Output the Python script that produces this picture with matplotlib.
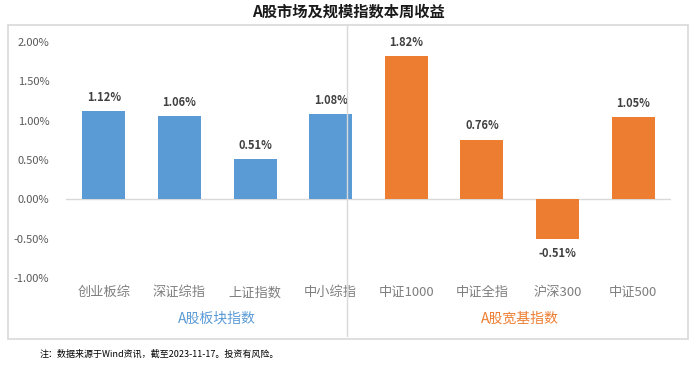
import numpy as np
import matplotlib.pyplot as plt
from matplotlib.patches import Rectangle
from matplotlib.lines import Line2D

plt.rcParams['font.family'] = ['Noto Sans CJK SC', 'DejaVu Sans']

# data
categories = ['创业板综', '深证综指', '上证指数', '中小综指', '中证1000', '中证全指', '沪深300', '中证500']
values = [1.12, 1.06, 0.51, 1.08, 1.82, 0.76, -0.51, 1.05]
groups = ['A股板块指数', 'A股宽基指数']
group_sizes = [4, 4]

blue = '#5b9bd5'
orange = '#ed7d31'
colors = [blue] * group_sizes[0] + [orange] * group_sizes[1]

fig = plt.figure(figsize=(6.96, 3.69), dpi=100)
ax = fig.add_axes([66 / 696, 1 - 278 / 369, 605 / 696, 236 / 369])

x = np.arange(len(categories))
ax.bar(x, values, width=0.57, color=colors, zorder=2)
ax.axhline(0, color='#d9d9d9', lw=1, zorder=1)

for xi, v in zip(x, values):
    if v >= 0:
        ax.text(xi, v + 0.09, f'{v:.2f}%', ha='center', va='bottom', fontsize=8,
                fontweight='bold', color='#404040')
    else:
        ax.text(xi, v - 0.09, f'{v:.2f}%', ha='center', va='top', fontsize=8,
                fontweight='bold', color='#404040')

ax.set_xlim(-0.5, len(categories) - 0.5)
ax.set_ylim(-1.0, 2.0)
yt = np.arange(-1.0, 2.01, 0.5)
ax.set_yticks(yt)
ax.set_yticklabels([f'{t:.2f}%' for t in yt], fontsize=8, color='#595959')
ax.tick_params(axis='y', length=0, pad=12)
ax.set_xticks(x)
ax.set_xticklabels(categories, fontsize=9.5, color='#7f7f7f')
ax.tick_params(axis='x', length=0, pad=6)
for s in ax.spines.values():
    s.set_visible(False)
ax.patch.set_alpha(0)

# group labels
start = 0
for g, n, c in zip(groups, group_sizes, [blue, orange]):
    mid = start + (n - 1) / 2
    ax.text(mid, -1.52, g, ha='center', va='center', fontsize=10, color=c,
            transform=ax.transData, clip_on=False)
    start += n

# separator line
sep_x = ax.transData.transform((3.22, 0))[0] / fig.dpi / 6.96
fig.add_artist(Line2D([sep_x, sep_x], [1 - 25 / 369, 1 - 336 / 369], color='#d9d9d9', lw=1))

# outer border
fig.add_artist(Rectangle((8 / 696, 1 - 339 / 369), 680 / 696, 314 / 369, fill=False,
                         edgecolor='#d9d9d9', lw=1.2))

fig.text(0.5, 1 - 12 / 369, 'A股市场及规模指数本周收益', ha='center', va='center',
         fontsize=11, fontweight='bold', color='#1a1a1a')
fig.text(40 / 696, 1 - 354 / 369, '注：数据来源于Wind资讯，截至2023-11-17。投资有风险。',
         ha='left', va='center', fontsize=6.5, color='#000000')

fig.savefig('out.png', dpi=100)
